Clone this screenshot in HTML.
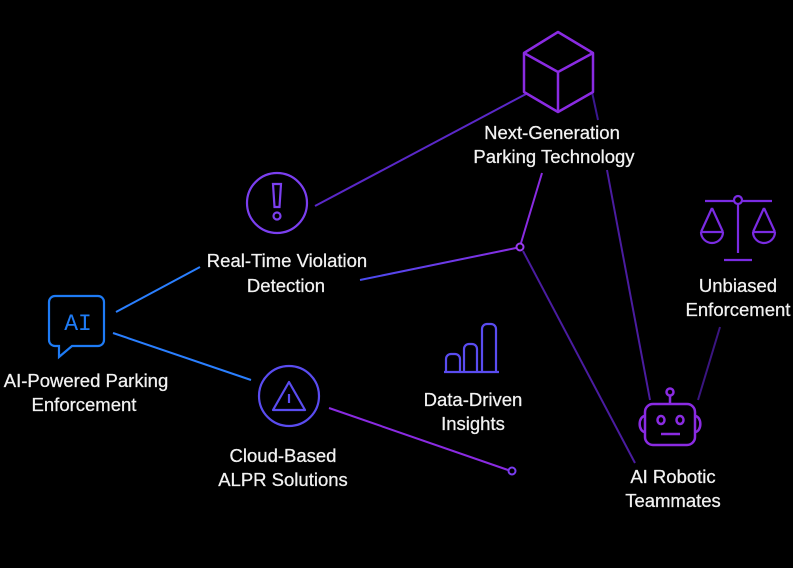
<!DOCTYPE html>
<html><head><meta charset="utf-8"><style>
html,body{margin:0;padding:0;background:#000;}
svg{display:block}
text{font-family:"Liberation Sans",sans-serif;font-size:18.5px;fill:#f2f2f2;text-anchor:middle;stroke:#f2f2f2;stroke-width:0.25}
</style></head><body>
<svg width="793" height="568" viewBox="0 0 793 568" xmlns="http://www.w3.org/2000/svg">
<defs>
<linearGradient id="g1" x1="360" y1="280" x2="520" y2="247" gradientUnits="userSpaceOnUse">
<stop offset="0" stop-color="#4a4cf0"/><stop offset="1" stop-color="#8a2be2"/></linearGradient>
</defs>
<rect width="793" height="568" fill="#000"/>
<g fill="none" stroke-width="2">
<line x1="116" y1="312" x2="200" y2="267" stroke="#2a7fff"/>
<line x1="113" y1="333" x2="251" y2="380" stroke="#2a7fff"/>
<line x1="315" y1="206" x2="526" y2="94" stroke="#5a28c8"/>
<line x1="360" y1="280" x2="516" y2="248" stroke="url(#g1)"/>
<line x1="521" y1="243" x2="542" y2="173" stroke="#8a2be2"/>
<line x1="523" y1="251" x2="635" y2="463" stroke="#4a1ca0"/>
<line x1="592" y1="92" x2="598" y2="120" stroke="#3a1890"/>
<line x1="607" y1="170" x2="650" y2="400" stroke="#4a1ca0"/>
<line x1="720" y1="327" x2="698" y2="400" stroke="#3a1580"/>
<line x1="329" y1="408" x2="508" y2="470" stroke="#8a2be2"/>
<circle cx="520" cy="247" r="3.5" stroke="#9a3cf0"/>
<circle cx="512" cy="471" r="3.5" stroke="#7a3cf0"/>
</g>
<g fill="none" stroke="#1e7bf5" stroke-width="2.2">
<path d="M55 296 H98 A6 6 0 0 1 104 302 V340 A6 6 0 0 1 98 346 H72 L59 357 V346 H55 A6 6 0 0 1 49 340 V302 A6 6 0 0 1 55 296 Z"/>
</g>
<text x="78" y="330" style="font-family:'Liberation Mono',monospace;font-size:23px;fill:#1e7bf5;stroke:none">AI</text>
<g fill="none" stroke="#7b3ff0" stroke-width="2.2">
<circle cx="277" cy="203" r="30"/>
<path d="M273 184 H281 L279.5 207 H274.5 Z"/>
<circle cx="277" cy="216" r="3.5"/>
</g>
<g fill="none" stroke="#5a4cf0" stroke-width="2.2">
<circle cx="289" cy="396" r="30"/>
<path d="M289 382 L305 410 H273 Z" stroke-linejoin="round"/>
<line x1="289" y1="394" x2="289" y2="403"/>
</g>
<g fill="none" stroke="#8a2be2" stroke-width="2.5" stroke-linejoin="round">
<path d="M558 32 L593 53 V92 L558 112 L524 92 V53 Z"/>
<path d="M524 53 L558 72 L593 53 M558 72 V112"/>
</g>
<g fill="none" stroke="#7a2be2" stroke-width="2.2">
<line x1="705" y1="201" x2="734" y2="201"/><line x1="742" y1="201" x2="772" y2="201"/>
<circle cx="738" cy="200" r="4"/>
<line x1="738" y1="204" x2="738" y2="253"/>
<line x1="724" y1="260" x2="752" y2="260"/>
<path d="M712 208 L701 232 M712 208 L723 232 M701 232 H723 M701 232 A11 11 0 0 0 723 232"/>
<path d="M764 208 L753 232 M764 208 L775 232 M753 232 H775 M753 232 A11 11 0 0 0 775 232"/>
</g>
<g fill="none" stroke="#5a4cf0" stroke-width="2.2">
<line x1="444" y1="372" x2="499" y2="372"/>
<path d="M446 372 V359 A5 5 0 0 1 451 354 H455 A5 5 0 0 1 460 359 V372"/>
<path d="M464 372 V349 A5 5 0 0 1 469 344 H472 A5 5 0 0 1 477 349 V372"/>
<path d="M482 372 V329 A5 5 0 0 1 487 324 H491 A5 5 0 0 1 496 329 V372"/>
</g>
<g fill="none" stroke="#8a2be2" stroke-width="2.5">
<rect x="645" y="404" width="50" height="41" rx="8"/>
<circle cx="670" cy="392" r="3.5"/><line x1="670" y1="396" x2="670" y2="404"/>
<ellipse cx="661" cy="420" rx="3.5" ry="4"/><ellipse cx="680" cy="420" rx="3.5" ry="4"/>
<line x1="661" y1="434" x2="680" y2="434"/>
<path d="M645 416 A4 6 0 0 0 645 432"/><path d="M695 416 A4 6 0 0 1 695 432"/>
</g>
<text x="552" y="139">Next-Generation</text>
<text x="554" y="163">Parking Technology</text>
<text x="287" y="267">Real-Time Violation</text>
<text x="286" y="292">Detection</text>
<text x="86" y="387">AI-Powered Parking</text>
<text x="84" y="411">Enforcement</text>
<text x="283" y="462">Cloud-Based</text>
<text x="283" y="486">ALPR Solutions</text>
<text x="473" y="406">Data-Driven</text>
<text x="473" y="430">Insights</text>
<text x="738" y="292">Unbiased</text>
<text x="738" y="316">Enforcement</text>
<text x="673" y="483">AI Robotic</text>
<text x="673" y="507">Teammates</text>
</svg>
</body></html>
